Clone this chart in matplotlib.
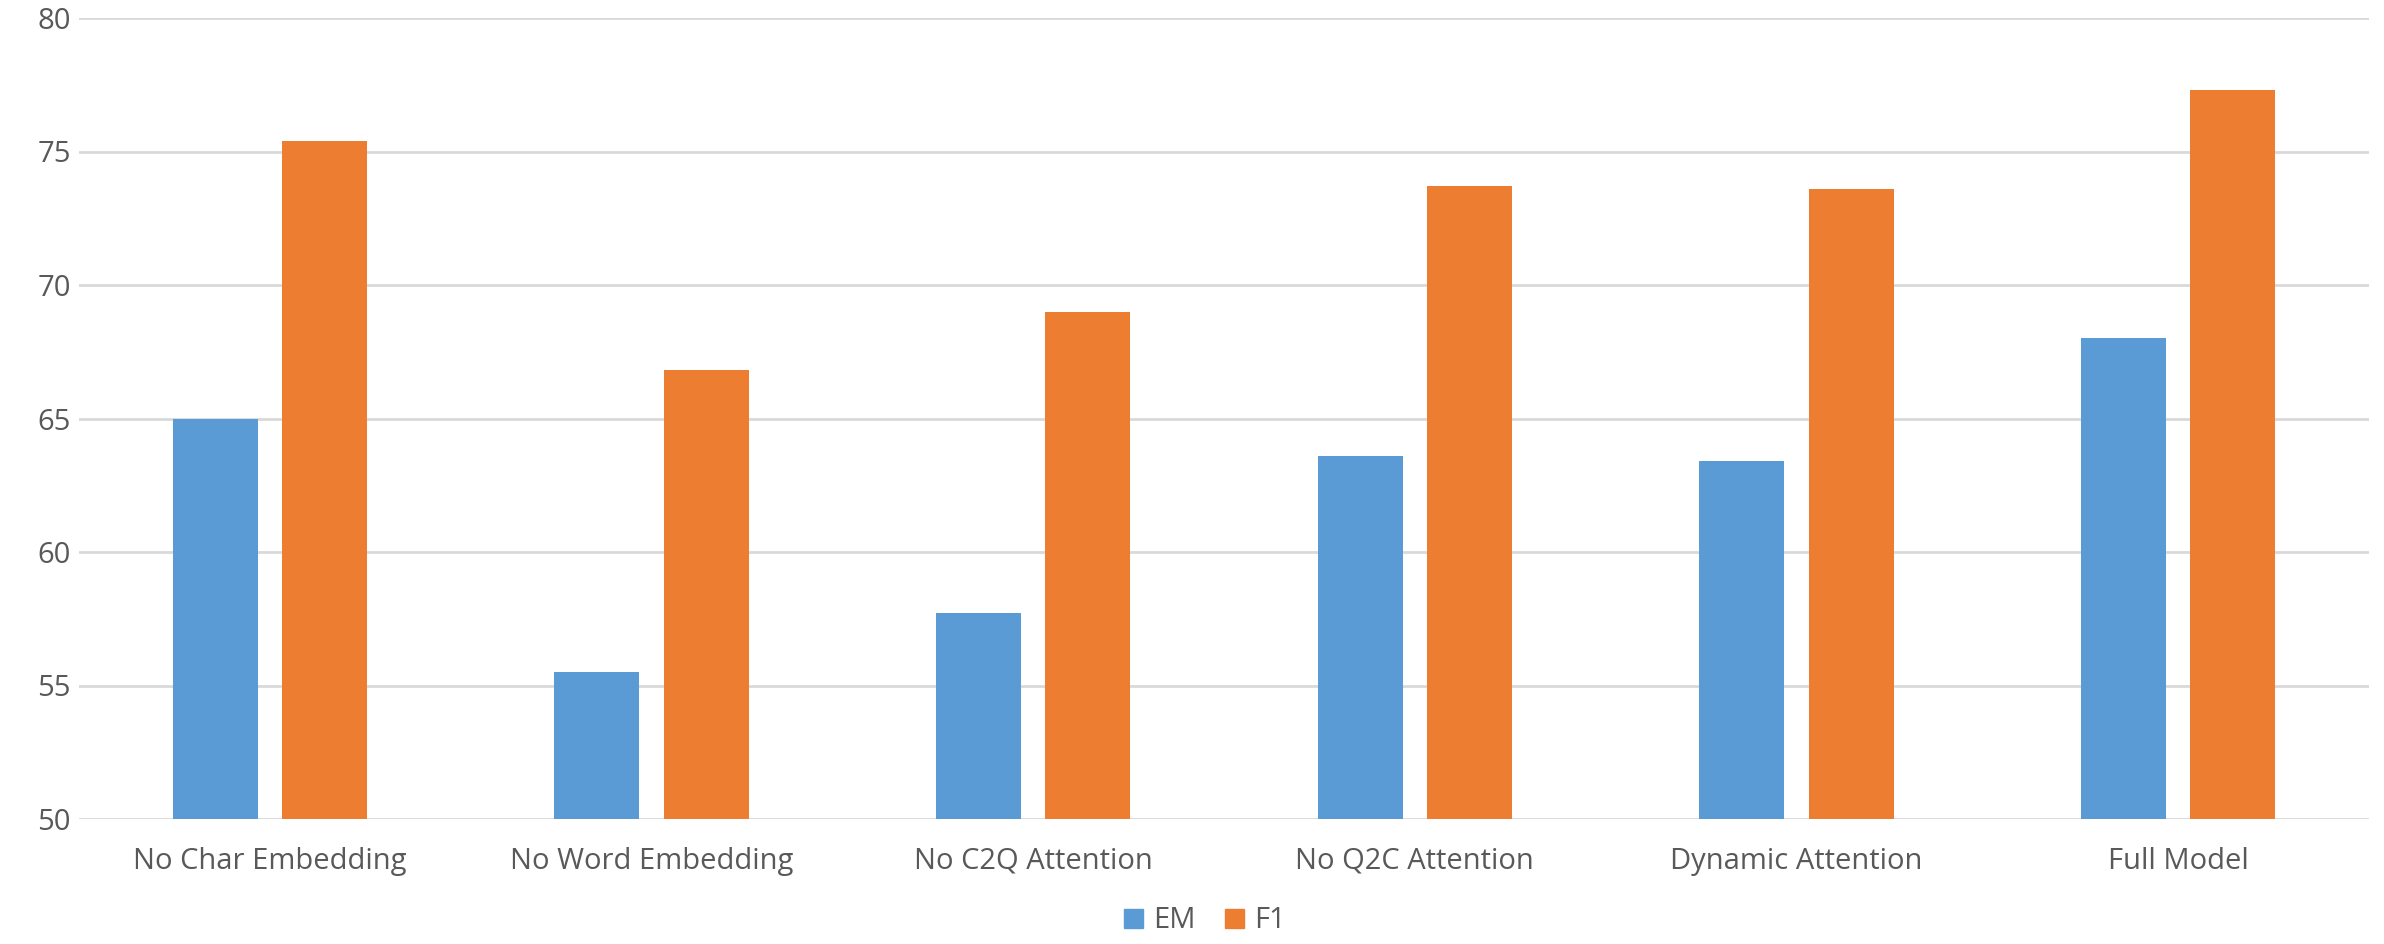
import numpy as np
import matplotlib.pyplot as plt
from matplotlib.patches import Patch

# Ablation results
categories = ['No Char Embedding', 'No Word Embedding', 'No C2Q Attention',
              'No Q2C Attention', 'Dynamic Attention', 'Full Model']
em_scores = [65.0, 55.5, 57.7, 63.6, 63.4, 68.0]
f1_scores = [75.4, 66.8, 69.0, 73.7, 73.6, 77.3]
y_ticks = [50, 55, 60, 65, 70, 75, 80]

EM_COLOR = '#5b9bd5'
F1_COLOR = '#ed7d31'
TEXT_COLOR = '#595959'

plt.rcParams['font.family'] = ['Open Sans', 'DejaVu Sans']

fig = plt.figure(figsize=(23.84, 9.44), dpi=100)
ax = fig.add_axes([79 / 2384, 1 - 819 / 944, (2369 - 79) / 2384, (819 - 18) / 944])

x = np.arange(len(categories))
width = 0.223
offset = 0.143
ax.bar(x - offset, np.array(em_scores) - 50, width, bottom=50, color=EM_COLOR, zorder=3)
ax.bar(x + offset, np.array(f1_scores) - 50, width, bottom=50, color=F1_COLOR, zorder=3)

ax.set_xlim(-0.5, len(categories) - 0.5)
ax.set_ylim(50, 80)
ax.set_yticks(y_ticks)
ax.set_xticks(x)
ax.set_xticklabels(categories)
ax.tick_params(axis='both', length=0, labelsize=21, colors=TEXT_COLOR)
ax.tick_params(axis='x', pad=20)
ax.tick_params(axis='y', pad=6)

ax.grid(axis='y', color='#d9d9d9', linewidth=2, zorder=0)
for s in ax.spines.values():
    s.set_visible(False)

handles = [Patch(color=EM_COLOR, label='EM'), Patch(color=F1_COLOR, label='F1')]
fig.legend(handles=handles, loc='center', bbox_to_anchor=(1205 / 2384, 1 - 921 / 944),
           ncol=2, frameon=False, fontsize=21, handlelength=0.65, handleheight=0.65,
           handletextpad=0.35, columnspacing=1.0, labelcolor=TEXT_COLOR)

fig.savefig('out.png', dpi=100)
